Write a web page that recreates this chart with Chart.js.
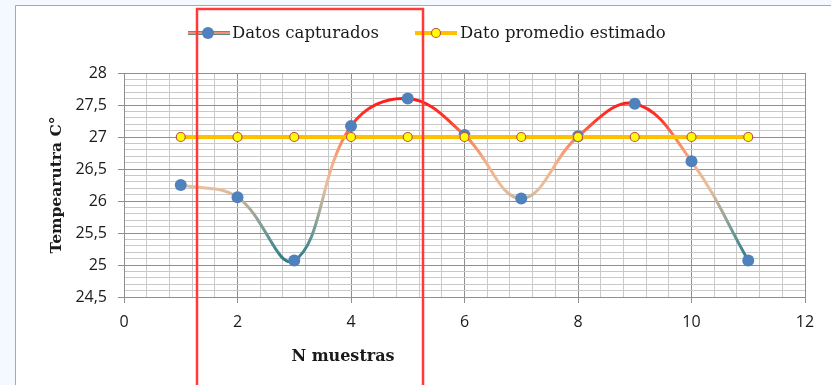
<!DOCTYPE html>
<html>
<head>
<meta charset="utf-8">
<script src="https://cdn.jsdelivr.net/npm/chart.js@4.4.1/dist/chart.umd.min.js"></script>
<style>
  html, body { margin: 0; padding: 0; background: #f3f9fe; }
  canvas { display: block; }
</style>
</head>
<body>
<canvas id="grafico" width="831" height="385"></canvas>
<script>
// Muestras y temperaturas medidas
const muestras = [1, 2, 3, 4, 5, 6, 7, 8, 9, 10, 11];
const datosCapturados = [26.25, 26.06, 25.07, 27.17, 27.6, 27.03, 26.04, 27.01, 27.52, 26.62, 25.07];
const datoPromedio = [27, 27, 27, 27, 27, 27, 27, 27, 27, 27, 27];

// Marcas principales de los ejes
const xTickLabels = [0, 2, 4, 6, 8, 10, 12];
const yTickLabels = [24.5, 25, 25.5, 26, 26.5, 27, 27.5, 28];

const seriesNames = ['Datos capturados', 'Dato promedio estimado'];
const axisTitles = { x: 'N muestras', y: 'Tempearutra C°' };

// Subdivisiones de la cuadrícula entre marcas principales
const X_SUBDIV = 5;
const Y_SUBDIV = 5;

// Tramo resaltado (en unidades del eje X)
const tramoResaltado = [1.29, 5.27];

// Degradado de la línea según la temperatura
const lineGradientStops = [
  [27.6, '#ff1a1a'],
  [27.25, '#ff3a2a'],
  [27.0, '#f7825c'],
  [26.6, '#f4b088'],
  [26.2, '#e8bf9e'],
  [25.9, '#aeac98'],
  [25.5, '#6c9896'],
  [25.07, '#2c7b88']
];

const MAJOR_GRID = '#8f8f8f';
const MINOR_GRID = '#c9c9c9';
const TEXT_COLOR = '#1a1a1a';

function withSubdivisions(majors, n) {
  const out = [];
  for (let i = 0; i < majors.length; i++) {
    out.push(majors[i]);
    if (i < majors.length - 1) {
      const step = (majors[i + 1] - majors[i]) / n;
      for (let k = 1; k < n; k++) out.push(majors[i] + step * k);
    }
  }
  return out;
}

function isMajor(list, v) {
  return list.some(t => Math.abs(t - v) < 1e-7);
}

function gradientStroke(context) {
  const chart = context.chart;
  const { ctx, chartArea, scales } = chart;
  if (!chartArea) return '#f4b088';
  const yTop = scales.y.getPixelForValue(lineGradientStops[0][0]);
  const yBot = scales.y.getPixelForValue(lineGradientStops[lineGradientStops.length - 1][0]);
  const g = ctx.createLinearGradient(0, yTop, 0, yBot);
  lineGradientStops.forEach(([v, c]) => {
    const off = (scales.y.getPixelForValue(v) - yTop) / (yBot - yTop);
    g.addColorStop(Math.min(1, Math.max(0, off)), c);
  });
  return g;
}

const framePlugin = {
  id: 'marco',
  beforeDraw(chart) {
    const { ctx, width, height } = chart;
    ctx.save();
    ctx.fillStyle = '#f3f9fe';
    ctx.fillRect(0, 0, width, height);
    ctx.fillStyle = '#ffffff';
    ctx.fillRect(15, 5, width - 15, height - 5);
    ctx.strokeStyle = '#a8a8a8';
    ctx.lineWidth = 1;
    ctx.beginPath();
    ctx.moveTo(15.5, height);
    ctx.lineTo(15.5, 5.5);
    ctx.lineTo(width, 5.5);
    ctx.stroke();
    ctx.restore();
  }
};

const overlayPlugin = {
  id: 'leyendaYResalte',
  afterDraw(chart) {
    const { ctx, scales, width, height } = chart;
    const ds0 = chart.data.datasets[0];
    const ds1 = chart.data.datasets[1];
    ctx.save();

    // Leyenda: Datos capturados
    const ly = 33;
    const lg = ctx.createLinearGradient(0, ly - 2, 0, ly + 2);
    lg.addColorStop(0, '#ff3030');
    lg.addColorStop(0.5, '#f4b088');
    lg.addColorStop(1, '#2c7b88');
    ctx.fillStyle = lg;
    ctx.fillRect(188, ly - 2, 42, 4);
    ctx.beginPath();
    ctx.arc(208, ly, 6, 0, Math.PI * 2);
    ctx.fillStyle = ds0.pointBackgroundColor;
    ctx.fill();

    ctx.font = '16.5px "DejaVu Serif"';
    ctx.fillStyle = TEXT_COLOR;
    ctx.textBaseline = 'middle';
    ctx.textAlign = 'left';
    ctx.fillText(ds0.label, 232, ly + 1);

    // Leyenda: Dato promedio estimado
    ctx.fillStyle = ds1.borderColor;
    ctx.fillRect(415, ly - 2, 42, 4);
    ctx.beginPath();
    ctx.arc(436, ly, 4.5, 0, Math.PI * 2);
    ctx.fillStyle = ds1.pointBackgroundColor;
    ctx.fill();
    ctx.lineWidth = 1.2;
    ctx.strokeStyle = ds1.pointBorderColor;
    ctx.stroke();
    ctx.fillStyle = TEXT_COLOR;
    ctx.fillText(ds1.label, 460, ly + 1);

    // Título del eje X
    ctx.font = 'bold 16px "DejaVu Serif"';
    ctx.textAlign = 'center';
    ctx.fillText(axisTitles.x, 343, 357);

    // Recuadro de resalte
    const x0 = Math.round(scales.x.getPixelForValue(tramoResaltado[0]));
    const x1 = Math.round(scales.x.getPixelForValue(tramoResaltado[1]));
    ctx.strokeStyle = '#ff3a3a';
    ctx.lineWidth = 2.5;
    ctx.strokeRect(x0, 9, x1 - x0, height + 10);
    ctx.restore();
  }
};

new Chart(document.getElementById('grafico'), {
  type: 'line',
  data: {
    datasets: [
      {
        label: seriesNames[0],
        data: muestras.map((x, i) => ({ x, y: datosCapturados[i] })),
        borderColor: gradientStroke,
        borderWidth: 3,
        tension: 0.4,
        pointRadius: 6,
        pointBackgroundColor: '#4f81bd',
        pointBorderColor: '#4f81bd',
        pointBorderWidth: 0,
        order: 2
      },
      {
        label: seriesNames[1],
        data: muestras.map((x, i) => ({ x, y: datoPromedio[i] })),
        borderColor: '#ffc000',
        borderWidth: 4,
        tension: 0,
        pointRadius: 4.5,
        pointBackgroundColor: '#ffff00',
        pointBorderColor: '#c0504d',
        pointBorderWidth: 1.2,
        order: 1
      }
    ]
  },
  options: {
    responsive: false,
    animation: false,
    devicePixelRatio: 1,
    layout: { padding: { left: 16, top: 73, right: 26, bottom: 0 } },
    plugins: {
      legend: { display: false },
      tooltip: { enabled: false }
    },
    scales: {
      x: {
        type: 'linear',
        min: xTickLabels[0],
        max: xTickLabels[xTickLabels.length - 1],
        afterBuildTicks: s => { s.ticks = withSubdivisions(xTickLabels, X_SUBDIV).map(v => ({ value: v })); },
        afterFit: s => { s.height = 88; },
        border: { display: true, color: MAJOR_GRID, width: 1 },
        grid: {
          color: c => isMajor(xTickLabels, c.tick.value) ? MAJOR_GRID : MINOR_GRID,
          tickColor: c => isMajor(xTickLabels, c.tick.value) ? MAJOR_GRID : 'rgba(0,0,0,0)',
          lineWidth: 1,
          tickLength: 6
        },
        ticks: {
          autoSkip: false,
          maxRotation: 0,
          padding: 10,
          color: TEXT_COLOR,
          font: { family: '"Open Sans"', size: 16 },
          callback: v => isMajor(xTickLabels, v) ? String(Math.round(v)) : ''
        }
      },
      y: {
        type: 'linear',
        min: yTickLabels[0],
        max: yTickLabels[yTickLabels.length - 1],
        afterBuildTicks: s => { s.ticks = withSubdivisions(yTickLabels, Y_SUBDIV).map(v => ({ value: v })); },
        afterFit: s => { s.width = 108; },
        border: { display: true, color: MAJOR_GRID, width: 1 },
        grid: {
          color: c => isMajor(yTickLabels, c.tick.value) ? MAJOR_GRID : MINOR_GRID,
          tickColor: c => isMajor(yTickLabels, c.tick.value) ? MAJOR_GRID : 'rgba(0,0,0,0)',
          lineWidth: 1,
          tickLength: 6
        },
        ticks: {
          autoSkip: false,
          padding: 11,
          color: TEXT_COLOR,
          font: { family: '"Open Sans"', size: 16 },
          callback: v => isMajor(yTickLabels, v) ? String(Math.round(v * 10) / 10).replace('.', ',') : ''
        },
        title: {
          display: true,
          text: axisTitles.y,
          color: TEXT_COLOR,
          font: { family: '"DejaVu Serif"', size: 15.5, weight: 'bold' },
          padding: { top: 32, bottom: 0 }
        }
      }
    }
  },
  plugins: [framePlugin, overlayPlugin]
});
</script>
</body>
</html>
